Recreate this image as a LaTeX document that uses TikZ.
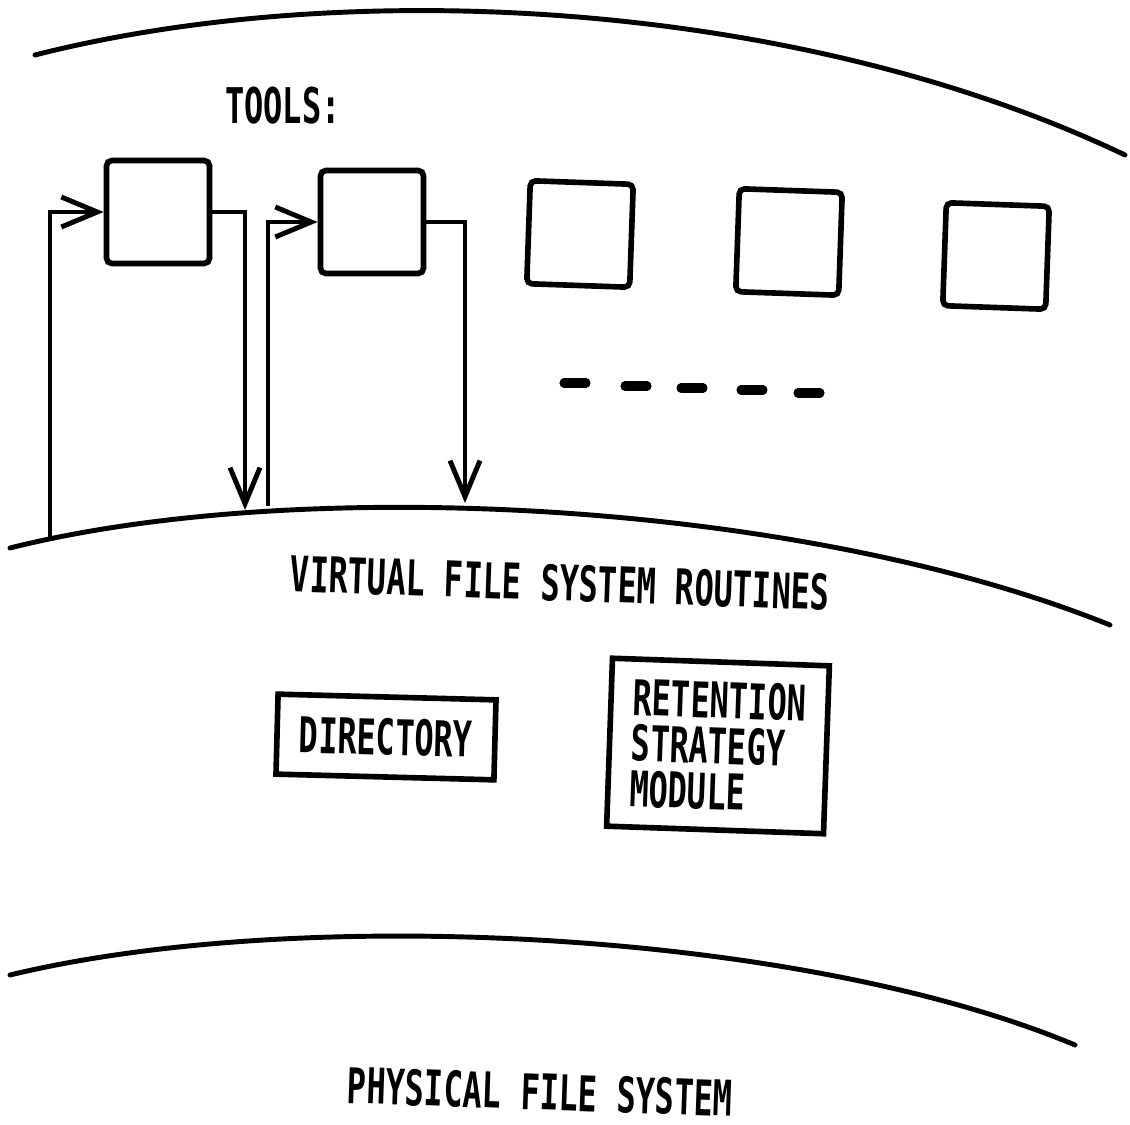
\documentclass[tikz,border=0pt]{standalone}
\usepackage{fontspec}
\newfontfamily\letterfont[FakeStretch=0.65]{DejaVu Sans Mono}
\usetikzlibrary{arrows.meta,positioning}
\begin{document}
\begin{tikzpicture}[x=0.1mm,y=-0.1mm,
  layer/.style={line width=1.4pt, line cap=round},
  toolbox/.style={draw, line width=1.6pt, rounded corners=1.5pt, minimum width=10.3mm, minimum height=10.3mm, inner sep=0pt},
  lettering/.style={font=\letterfont\bfseries\fontsize{14pt}{13pt}\selectfont, inner sep=0pt},
  modbox/.style={lettering, draw, line width=1.6pt},
  flow/.style={line width=1.4pt, -{Straight Barb[length=3.6mm,width=3mm]}}]
\useasboundingbox (0,0) rectangle (1130,1125);

% layer boundaries
\draw[layer] (35,55) .. controls (350,-25) and (800,0) .. (1125,155);
\draw[layer] (10,548) .. controls (300,475) and (800,500) .. (1110,625);
\draw[layer] (10,975) .. controls (300,905) and (800,930) .. (1075,1045);

% tools
\node[lettering] (tools) at (283,106) {TOOLS:};
\node[toolbox] (tool1) at (158,212) {};
\node[toolbox] (tool2) at (372,222) {};
\node[toolbox, rotate=-2] (tool3) at (580,234) {};
\node[toolbox, rotate=-2] (tool4) at (789,242) {};
\node[toolbox, rotate=-2] (tool5) at (996,256) {};
\foreach \x/\y in {575/383,636/386,692/388,752/390,809/393}
  \draw[line width=2.6pt, line cap=round] (\x-11,\y) -- (\x+11,\y);

% calls into the virtual file system
\coordinate (in1) at (50,537);
\coordinate (out1) at (245,510);
\coordinate (in2) at (268,506);
\coordinate (out2) at (465,503);
\draw[flow] (in1) |- (tool1.west);
\draw[flow] (tool1.east) -| (out1);
\draw[flow] (in2) |- (tool2.west);
\draw[flow] (tool2.east) -| (out2);

\node[lettering, rotate=-2] (vfs) at (560,583) {VIRTUAL FILE SYSTEM ROUTINES};
\node[modbox, rotate=-1.5, minimum width=21.8mm, minimum height=8mm] (dir) at (386,737) {DIRECTORY};
\node[modbox, rotate=-2, minimum width=21.7mm, minimum height=16.8mm, align=left] (ret) at (718,746) {RETENTION\\STRATEGY\\MODULE};
\node[lettering, rotate=-2] (pfs) at (540,1092) {PHYSICAL FILE SYSTEM};
\end{tikzpicture}
\end{document}
